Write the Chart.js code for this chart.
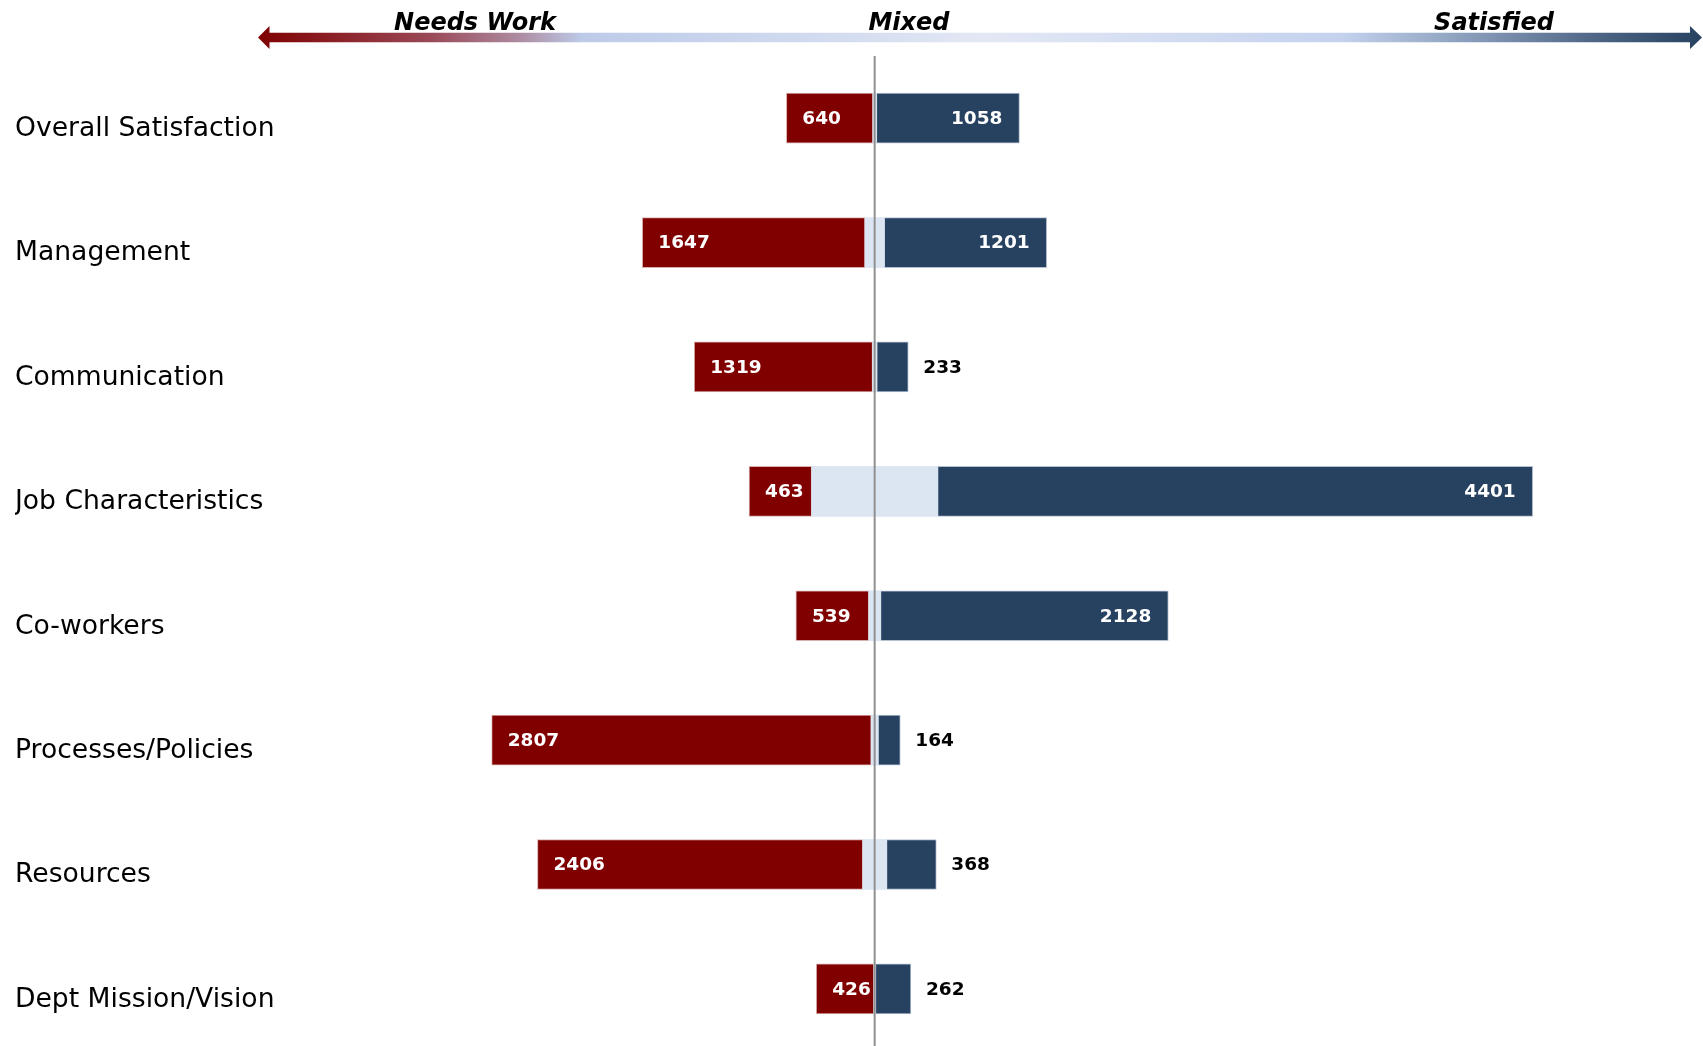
<!DOCTYPE html>
<html>
<head>
<meta charset="utf-8">
<title>Survey results by topic</title>
<script src="https://cdn.jsdelivr.net/npm/chart.js@4/dist/chart.umd.min.js"></script>
<style>
  html, body { margin: 0; padding: 0; background: #fff; overflow: hidden; }
  #wrap { position: relative; width: 1703px; height: 1070px; }
</style>
</head>
<body>
<div id="wrap"><canvas id="myChart"></canvas></div>
<script>
// topics, top to bottom
const categories = [
    'Overall Satisfaction',
    'Management',
    'Communication',
    'Job Characteristics',
    'Co-workers',
    'Processes/Policies',
    'Resources',
    'Dept Mission/Vision'
];

// response counts per topic
const needsWork = [640, 1647, 1319, 463, 539, 2807, 2406, 426];
const mixed = [26, 143, 31, 932, 87, 51, 176, 12];
const satisfied = [1058, 1201, 233, 4401, 2128, 164, 368, 262];

// words along the header arrow
const scaleLabels = ['Needs Work', 'Mixed', 'Satisfied'];

const RED = '#800000';
const NAVY = '#274161';
const LIGHT = '#dce6f2';
const FONT = "'DejaVu Sans', Verdana, sans-serif";

// gradient arrow with the three scale words across the top
const headerArrow = {
    id: 'headerArrow',
    beforeDraw(chart) {
        const ctx = chart.ctx;
        const x0 = 258, x1 = 1702, cy = 37.5;
        const grad = ctx.createLinearGradient(x0, 0, x1, 0);
        grad.addColorStop(0, '#7f0000');
        grad.addColorStop(0.12, '#9a4a58');
        grad.addColorStop(0.18, '#ad8aa0');
        grad.addColorStop(0.225, '#bdcbe9');
        grad.addColorStop(0.44, '#d8e0f1');
        grad.addColorStop(0.5, '#e3e8f5');
        grad.addColorStop(0.75, '#c4d2ee');
        grad.addColorStop(0.83, '#8fa3c0');
        grad.addColorStop(0.925, '#4f6686');
        grad.addColorStop(1, NAVY);

        ctx.save();
        ctx.fillStyle = grad;
        ctx.beginPath();
        ctx.moveTo(x0, cy);
        ctx.lineTo(x0 + 11.5, cy - 11.5);
        ctx.lineTo(x0 + 11.5, cy - 4.8);
        ctx.lineTo(x1 - 12, cy - 4.8);
        ctx.lineTo(x1 - 12, cy - 11.5);
        ctx.lineTo(x1, cy);
        ctx.lineTo(x1 - 12, cy + 11.5);
        ctx.lineTo(x1 - 12, cy + 4.8);
        ctx.lineTo(x0 + 11.5, cy + 4.8);
        ctx.lineTo(x0 + 11.5, cy + 11.5);
        ctx.closePath();
        ctx.fill();

        ctx.fillStyle = '#000';
        ctx.font = 'italic bold 24px ' + FONT;
        ctx.textAlign = 'center';
        ctx.textBaseline = 'alphabetic';
        const centers = [475, 909, 1494];
        scaleLabels.forEach((txt, i) => ctx.fillText(txt, centers[i], 29.5));
        ctx.restore();
    }
};

// vertical divider at zero plus the count labels on each bar
const barLabels = {
    id: 'barLabels',
    afterDatasetsDraw(chart) {
        const ctx = chart.ctx;
        const xScale = chart.scales.x;
        const area = chart.chartArea;
        const zero = xScale.getPixelForValue(0);

        ctx.save();
        ctx.strokeStyle = '#909090';
        ctx.lineWidth = 2;
        ctx.beginPath();
        ctx.moveTo(zero, area.top);
        ctx.lineTo(zero, area.bottom + 16);
        ctx.stroke();

        ctx.font = 'bold 18.5px ' + FONT;
        ctx.textBaseline = 'middle';

        const redBars = chart.getDatasetMeta(2).data;
        const navyBars = chart.getDatasetMeta(3).data;

        needsWork.forEach((v, i) => {
            const bar = redBars[i];
            const left = Math.min(bar.x, bar.base);
            ctx.fillStyle = '#fff';
            ctx.textAlign = 'left';
            ctx.fillText(String(v), left + 16, bar.y + 1);
        });

        satisfied.forEach((v, i) => {
            const bar = navyBars[i];
            const right = Math.max(bar.x, bar.base);
            if (v >= 400) {
                ctx.fillStyle = '#fff';
                ctx.textAlign = 'right';
                ctx.fillText(String(v), right - 17, bar.y + 1);
            } else {
                ctx.fillStyle = '#000';
                ctx.textAlign = 'left';
                ctx.fillText(String(v), right + 15, bar.y + 1);
            }
        });
        ctx.restore();
    }
};

const ctx = document.getElementById('myChart').getContext('2d');
new Chart(ctx, {
    type: 'bar',
    data: {
        labels: categories,
        datasets: [
            // mixed answers are split evenly either side of zero
            {
                label: 'Mixed',
                data: mixed.map(v => -v / 2),
                backgroundColor: LIGHT,
                borderWidth: 0
            },
            {
                label: 'Mixed',
                data: mixed.map(v => v / 2),
                backgroundColor: LIGHT,
                borderWidth: 0
            },
            {
                label: 'Needs Work',
                data: needsWork.map(v => -v),
                backgroundColor: RED,
                borderColor: 'rgba(200,140,140,0.7)',
                borderWidth: 1,
                borderSkipped: false
            },
            {
                label: 'Satisfied',
                data: satisfied,
                backgroundColor: NAVY,
                borderColor: 'rgba(150,165,190,0.7)',
                borderWidth: 1,
                borderSkipped: false
            }
        ]
    },
    options: {
        indexAxis: 'y',
        responsive: true,
        maintainAspectRatio: false,
        animation: false,
        layout: {
            padding: { top: 56, left: 15, right: 13, bottom: 0 }
        },
        datasets: {
            bar: { barThickness: 50 }
        },
        scales: {
            x: {
                stacked: true,
                min: -4250,
                max: 6030,
                display: false
            },
            y: {
                stacked: true,
                grid: { display: false },
                border: { display: false },
                afterFit(scale) { scale.width = 285; },
                ticks: {
                    crossAlign: 'far',
                    labelOffset: 11,
                    color: '#000',
                    font: { family: FONT, size: 26.6 }
                }
            }
        },
        plugins: {
            legend: { display: false },
            tooltip: { enabled: false }
        }
    },
    plugins: [headerArrow, barLabels]
});
</script>
</body>
</html>
